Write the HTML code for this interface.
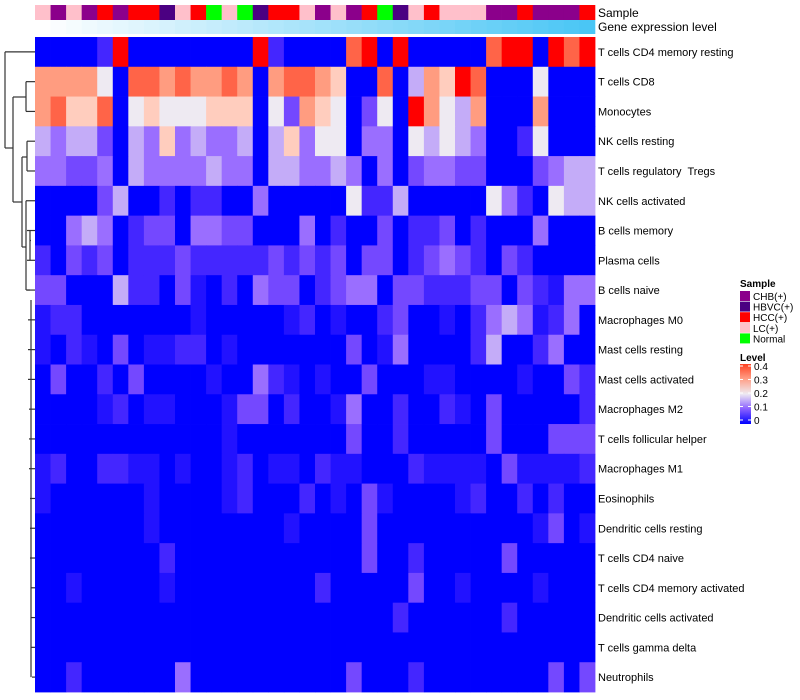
<!DOCTYPE html>
<html><head><meta charset="utf-8"><style>
body{margin:0;background:#fff;}
svg{display:block;font-family:"Liberation Sans",sans-serif;}
</style></head><body>
<svg id="s" width="800" height="700" xmlns="http://www.w3.org/2000/svg"></svg>
<script>
var pal={'0':'#0000FF','a':'#2212FF','1':'#4426FF','2':'#7448FF','3':'#9A6EFF','4':'#C4ACF8','5':'#EEEAF2','6':'#FFCDBE','7':'#FF9C80','8':'#FF6448','9':'#FF0000'};
var rows=[
["T cells CD4 memory resting","000019000000009100008909000008990989"],
["T cells CD8","777750887877870788760080476980005000"],
["Monocytes","786680565556660527650250975470007000"],
["NK cells resting","434420436343340463550330545430015000"],
["T cells regulatory  Tregs","332230433334330443343030233220002344"],
["NK cells activated","000024001011003000005114000005310544"],
["B cells memory","003430122033220003010020112010003000"],
["Plasma cells","102120111211111212120220123210210000"],
["B cells naive","2200041102a0103220123302211122021a33"],
["Macrophages M0","a110000000a00000a10a001200a01343a130"],
["Mast cells resting","a01a020aa110a000000020a3000014001300"],
["Mast cells activated","02001020000a0031a0a002000aa0000a0021"],
["Macrophages M2","0000a10aa000a220100a3001001a02000001"],
["T cells follicular helper","000000000000a00000002001000002000222"],
["Macrophages M1","a10011aa0a00a10aa01aa0001aaaa02aaaa1"],
["Eosinophils","a000000a0000a100010a02a0000a10010100"],
["Dendritic cells resting","0000000a00000000a000020000000000a20a"],
["T cells CD4 naive","000000001000000000000200100000200000"],
["T cells CD4 memory activated","00a00000a000000000100000200a0000a000"],
["Dendritic cells activated","000000000000000000000001000000100000"],
["T cells gamma delta","000000000000000000000000000000000000"],
["Neutrophils","001000000300000000002000100000000202"]
];
var samp="LPLPRPRRILRGLGIRRLPLPRGILRLLLPPRPPPR";
var sc={L:'#FFC0CB',P:'#8B008B',R:'#FF0000',G:'#00FF00',I:'#4B0082'};
var x0=35,y0=37,cw=560/36,rh=655/22,o='';
for(var j=0;j<36;j++){
 var x=x0+j*cw;
 o+='<rect x="'+x.toFixed(2)+'" y="5" width="'+(cw+0.3).toFixed(2)+'" height="15" fill="'+sc[samp[j]]+'"/>';
 var t=j/35;var r=Math.round(255+(74-255)*t),g=Math.round(255+(198-255)*t),b=Math.round(255+(245-255)*t);
 o+='<rect x="'+x.toFixed(2)+'" y="20" width="'+(cw+0.3).toFixed(2)+'" height="14" fill="rgb('+r+','+g+','+b+')"/>';
}
for(var i=0;i<22;i++){
 var s=rows[i][1];var y=y0+i*rh;
 for(var j=0;j<36;j++){
  var c=pal[s[j]]||'#0000FF';
  o+='<rect x="'+(x0+j*cw).toFixed(2)+'" y="'+y.toFixed(2)+'" width="'+(cw+0.4).toFixed(2)+'" height="'+(rh+0.4).toFixed(2)+'" fill="'+c+'"/>';
 }
 o+='<text x="598" y="'+(y+rh/2+4).toFixed(1)+'" font-size="11">'+rows[i][0].replace(/  /g,'&#160; ')+'</text>';
}
o+='<text x="598" y="17" font-size="12">Sample</text><text x="598" y="31" font-size="12">Gene expression level</text>';
function cy(i){return y0+(i+0.5)*rh;}
var L='';
function h(x1,x2,y){L+='<line x1="'+x1+'" y1="'+y+'" x2="'+x2+'" y2="'+y+'"/>';}
function v(x,y1,y2){L+='<line x1="'+x+'" y1="'+y1+'" x2="'+x+'" y2="'+y2+'"/>';}
v(5,cy(0),148);h(5,35,cy(0));h(5,13,148);
v(13,97,202);h(13,26,97);h(13,22,202);
v(26,cy(1),cy(2));h(26,35,cy(1));h(26,35,cy(2));
v(22,157,247);h(22,27,157);h(22,26,247);
v(27,cy(3),cy(4));h(27,35,cy(3));h(27,35,cy(4));
v(26,cy(5),290);h(26,35,cy(5));
for(var k=6;k<22;k++){
 var xx=Math.min(33,27+Math.floor((k-6)/3));
 h(xx,35,cy(k));
}
v(30,cy(6),cy(7));h(26,30,290);
v(31,300,cy(21));h(30,31,cy(6)+10);
o+='<g stroke="#333" stroke-width="1.2" fill="none">'+L+'</g>';
o+='<text x="740" y="287" font-size="10" font-weight="bold">Sample</text>';
var lg=[['CHB(+)','#8B008B'],['HBVC(+)','#4B0082'],['HCC(+)','#FF0000'],['LC(+)','#FFC0CB'],['Normal','#00FF00']];
for(var k=0;k<5;k++){var yy=291+k*10.6;o+='<rect x="740" y="'+yy+'" width="10" height="10" fill="'+lg[k][1]+'"/><text x="753" y="'+(yy+9)+'" font-size="10">'+lg[k][0]+'</text>';}
o+='<defs><linearGradient id="lv" x1="0" y1="1" x2="0" y2="0"><stop offset="0" stop-color="#0000FF"/><stop offset="0.25" stop-color="#8A60FF"/><stop offset="0.5" stop-color="#EEEAF2"/><stop offset="0.75" stop-color="#FFA088"/><stop offset="1" stop-color="#FF4020"/></linearGradient></defs>';
o+='<text x="740" y="361" font-size="10" font-weight="bold">Level</text>';
o+='<rect x="740" y="364" width="11" height="60" fill="url(#lv)"/>';
var tl=['0.4','0.3','0.2','0.1','0'];
for(var k=0;k<5;k++){var yy=366+k*13.5;o+='<line x1="740" x2="743" y1="'+yy+'" y2="'+yy+'" stroke="#fff"/><line x1="748" x2="751" y1="'+yy+'" y2="'+yy+'" stroke="#fff"/><text x="754" y="'+(yy+4)+'" font-size="10">'+tl[k]+'</text>';}
document.getElementById('s').innerHTML=o;
</script>
</body></html>
